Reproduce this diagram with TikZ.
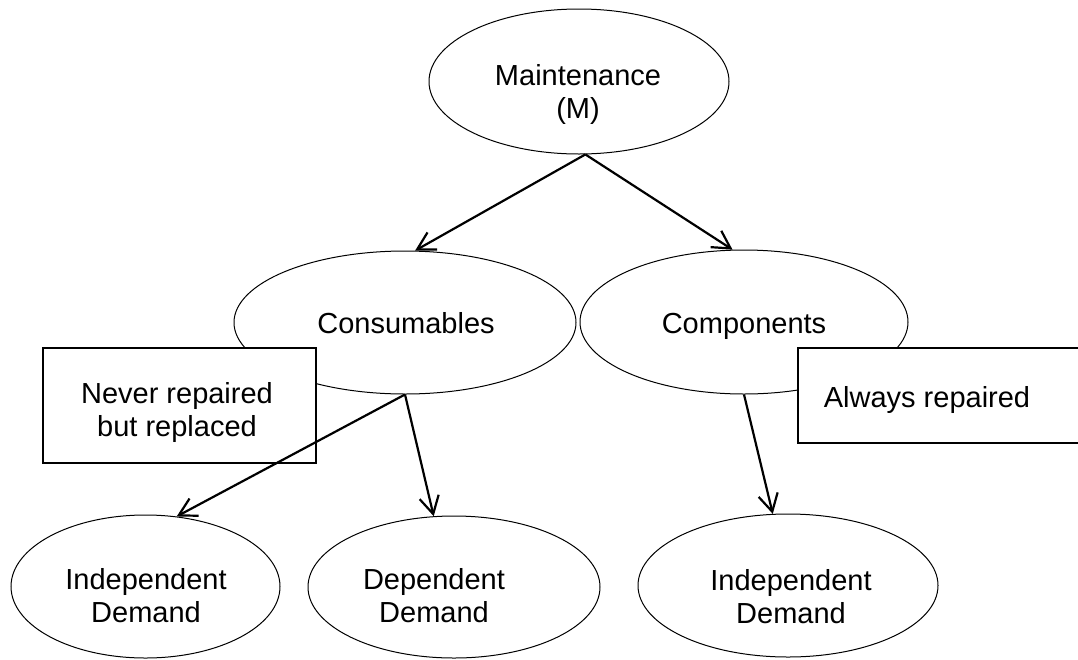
\documentclass[tikz,border=0pt]{standalone}
\usepackage{fontspec}
\setmainfont{Liberation Sans}
\usetikzlibrary{shapes.geometric,arrows.meta}

\begin{document}
\begin{tikzpicture}[x=1pt,y=-1pt,
  oval/.style={ellipse,draw,line width=1pt,inner sep=0pt},
  notebox/.style={draw,fill=white,line width=1.2pt,inner sep=0pt},
  txt/.style={font=\fontsize{29}{33.5}\selectfont,align=center,inner sep=0pt},
  link/.style={line width=2.2pt,-{Straight Barb[length=17.5pt,width=19.5pt]}}]
\useasboundingbox (0,0) rectangle (1078,659);

% ovals
\node[oval,minimum width=300pt,minimum height=145pt] (maint) at (579,81.5) {};
\node[oval,minimum width=342pt,minimum height=143pt] (cons) at (405,322.5) {};
\node[oval,minimum width=328pt,minimum height=144pt] (comp) at (744,322) {};
\node[oval,minimum width=269pt,minimum height=143pt] (indA) at (145.5,586.5) {};
\node[oval,minimum width=292pt,minimum height=142pt] (dep) at (454,587) {};
\node[oval,minimum width=300pt,minimum height=143pt] (indB) at (788,585.5) {};

% side notes, drawn over the ovals
\node[notebox,minimum width=273pt,minimum height=115pt] (never) at (179.5,405.5) {};
\node[notebox,minimum width=284pt,minimum height=95pt] (always) at (940,395.5) {};

% labels
\node[txt,anchor=north] (tmaint) at (578,64.2) {Maintenance\\(M)};
\node[txt,anchor=base] (tcons) at (406,333) {Consumables};
\node[txt,anchor=base] (tcomp) at (744,333) {Components};
\node[txt,anchor=north] (tnever) at (177,381.9) {Never repaired\\but replaced};
\node[txt,anchor=base] (talways) at (927,407) {Always repaired};
\node[txt,anchor=north] (tindA) at (146,568.2) {Independent\\Demand};
\node[txt,anchor=north] (tdep) at (434,568.2) {Dependent\\Demand};
\node[txt,anchor=north] (tindB) at (791,569.2) {Independent\\Demand};

% connectors
\draw[link] (maint.-85) -- (cons.82);
\draw[link] (maint.-85) -- (comp.99);
\draw[link] (cons.south) -- (indA.66);
\draw[link] (cons.south) -- (dep.106);
\draw[link] (comp.south) -- (indB.102);
\end{tikzpicture}
\end{document}
